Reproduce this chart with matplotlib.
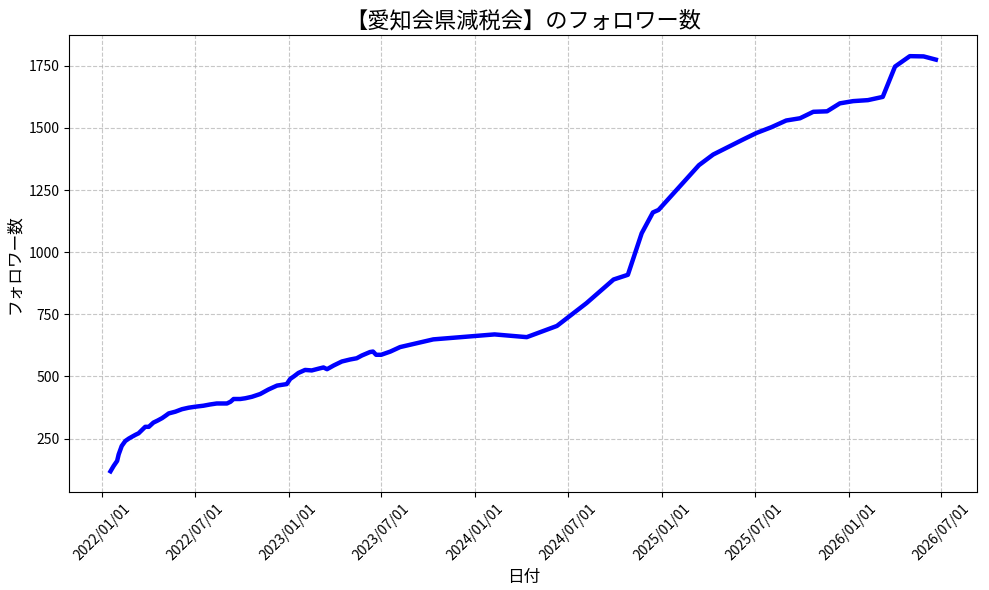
import pandas as pd
import matplotlib
matplotlib.use("Agg")
import matplotlib.pyplot as plt
import matplotlib.dates as mdates

plt.rcParams['font.family'] = ['Noto Sans CJK JP', 'DejaVu Sans']

# follower counts
dates = [
    "2022-01-17", "2022-01-23", "2022-01-30", "2022-02-02", "2022-02-08",
    "2022-02-15", "2022-02-22", "2022-02-28", "2022-03-07", "2022-03-13",
    "2022-03-20", "2022-03-26", "2022-04-02", "2022-04-11", "2022-04-19",
    "2022-04-28", "2022-05-05", "2022-05-11", "2022-05-24", "2022-06-06",
    "2022-06-19", "2022-07-02", "2022-07-18", "2022-07-31", "2022-08-13",
    "2022-09-02", "2022-09-09", "2022-09-15", "2022-09-28", "2022-10-08",
    "2022-10-21", "2022-11-06", "2022-11-22", "2022-12-09", "2022-12-28",
    "2023-01-04", "2023-01-11", "2023-01-20", "2023-02-02", "2023-02-15",
    "2023-03-02", "2023-03-10", "2023-03-17", "2023-03-30", "2023-04-15",
    "2023-05-01", "2023-05-14", "2023-05-24", "2023-06-09", "2023-06-15",
    "2023-06-21", "2023-07-01", "2023-07-19", "2023-08-07", "2023-10-11",
    "2024-02-08", "2024-04-11", "2024-06-09", "2024-08-06", "2024-09-28",
    "2024-10-26", "2024-11-22", "2024-12-14", "2024-12-25", "2025-03-14",
    "2025-04-11", "2025-06-09", "2025-07-05", "2025-08-03", "2025-09-01",
    "2025-09-28", "2025-10-24", "2025-11-20", "2025-12-15", "2026-01-10",
    "2026-02-08", "2026-03-09", "2026-04-02", "2026-05-01", "2026-05-28",
    "2026-06-21",
]
followers = [
    118, 139, 160, 186, 220,
    240, 250, 257, 265, 271,
    285, 297, 297, 314, 322,
    332, 342, 351, 358, 368,
    374, 378, 382, 387, 391,
    391, 398, 409, 409, 412,
    418, 429, 447, 463, 469,
    490, 500, 514, 526, 524,
    532, 536, 529, 544, 560,
    568, 573, 584, 598, 600,
    587, 587, 600, 618, 649,
    669, 658, 703, 795, 890,
    909, 1076, 1160, 1170, 1350,
    1393, 1454, 1480, 1503, 1530,
    1539, 1565, 1567, 1599, 1608,
    1612, 1625, 1747, 1789, 1788,
    1775,
]

x = pd.to_datetime(dates)

fig, ax = plt.subplots(figsize=(9.89, 5.9), dpi=100)
ax.plot(x, followers, color='blue', linewidth=3.2)

ax.set_title('【愛知会県減税会】のフォロワー数', fontsize=16)
ax.set_xlabel('日付', fontsize=12)
ax.set_ylabel('フォロワー数', fontsize=12)
ax.grid(True, linestyle='--', alpha=0.7)

ax.xaxis.set_major_locator(mdates.MonthLocator(bymonth=[1, 7]))
ax.xaxis.set_major_formatter(mdates.DateFormatter('%Y/%m/%d'))
plt.xticks(rotation=45)

fig.subplots_adjust(left=0.070, right=0.988, top=0.940, bottom=0.166)
plt.savefig('out.png')
